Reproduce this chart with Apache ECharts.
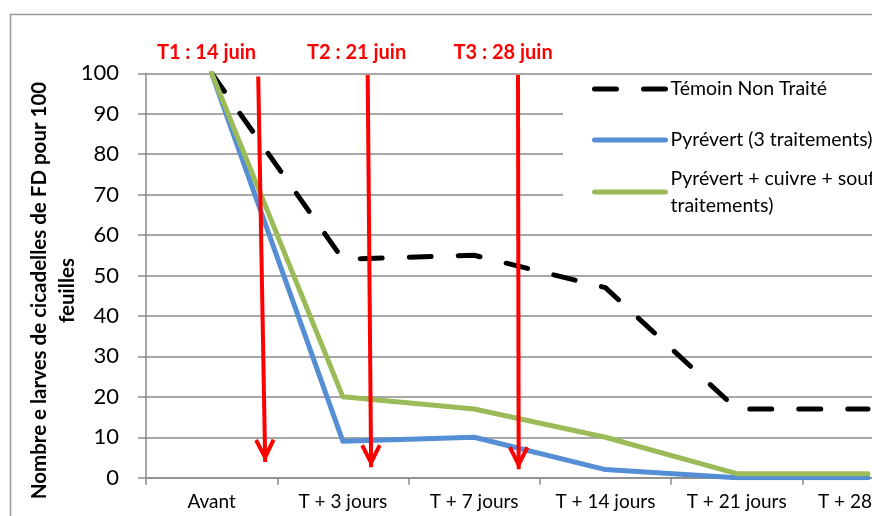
<!DOCTYPE html>
<html><head><meta charset="utf-8">
<script src="https://cdn.jsdelivr.net/npm/echarts@6/dist/echarts.min.js"></script>
<style>html,body{margin:0;padding:0;background:#fff;overflow:hidden;width:872px;height:516px}#c{width:934px;height:516px}</style>
</head><body><div id="c"></div>
<script>
// ---- data ----
const categories = ['Avant', 'T + 3 jours', 'T + 7 jours', 'T + 14 jours', 'T + 21 jours', 'T + 28 jours'];
const seriesNames = ['Témoin Non Traité', 'Pyrévert (3 traitements)', 'Pyrévert + cuivre + soufre (3\ntraitements)'];
const temoin = [100, 54, 55, 47, 17, 17];
const pyrevert = [100, 9, 10, 2, 0, 0];
const pyrevertCuivre = [100, 20, 17, 10, 1, 1];
const yMin = 0, yMax = 100, yInterval = 10;
const yName = 'Nombre e larves de cicadelles de FD pour 100\nfeuilles';
const treatmentLabels = ['T1 : 14 juin', 'T2 : 21 juin', 'T3 : 28 juin'];
// annotation anchors: x in category-index units, y in axis values
const arrowStart = [[0.355, 99.2], [1.189, 99.6], [2.334, 99.6]];
const arrowEnd = [[0.408, 3.9], [1.215, 2.6], [2.339, 2.1]];
const labelPos = [[-0.039, 100], [1.104, 100], [2.22, 100]];

// ---- styles ----
const FONT = 'Lato';
const GRAY = '#8a8a8a';
const chevron = 'path://M23,0 L23.1,0 L23,0.1 Z M0,23 L0.1,23 L0,23.1 Z M46,23 L45.9,23 L46,23.1 Z ' +
                'M23,23 L33.5,44 L30,46 L23,32 L16,46 L12.5,44 Z';

const chart = echarts.init(document.getElementById('c'), null, {renderer: 'canvas'});
chart.setOption({
  animation: false,
  backgroundColor: '#fff',
  graphic: [{
    type: 'rect', z: -1, silent: true,
    shape: {x: 10.5, y: 14.5, width: 1200, height: 1200},
    style: {fill: 'none', stroke: '#9a9a9a', lineWidth: 1.5}
  }],
  grid: {left: 146, top: 73.3, width: 787.6, height: 404.4, outerBoundsMode: 'none'},
  xAxis: [{
    type: 'category', data: categories, boundaryGap: true,
    axisLine: {onZero: false, lineStyle: {color: GRAY, width: 1.5}},
    axisTick: {show: true, length: 7, interval: 0, lineStyle: {color: GRAY, width: 1.5}},
    axisLabel: {interval: 0, margin: 15, color: '#000', fontFamily: FONT, fontSize: 19},
    splitLine: {show: false}
  }, {
    type: 'value', min: -0.5, max: 5.5, show: false
  }],
  yAxis: [{
    type: 'value', min: yMin, max: yMax, interval: yInterval,
    name: yName, nameLocation: 'middle', nameRotate: 90, nameGap: 64.4, nameMoveOverlap: false,
    nameTextStyle: {fontFamily: FONT, fontWeight: 'bold', fontSize: 20.5, color: '#000', lineHeight: 28, padding: [0, 30, 0, 0]},
    axisLine: {show: true, onZero: false, lineStyle: {color: GRAY, width: 1.5}},
    axisTick: {show: true, length: 8, lineStyle: {color: GRAY, width: 1.5}},
    axisLabel: {margin: 27, color: '#000', fontFamily: FONT, fontSize: 22},
    splitLine: {show: true, lineStyle: {color: GRAY, width: 1.5}}
  }],
  legend: [{
    data: [seriesNames[0], seriesNames[1]], orient: 'vertical', left: 563, top: 75,
    itemWidth: 71, itemHeight: 1, itemGap: 24, padding: [0.5, 300, 2, 29],
    backgroundColor: '#fff', selectedMode: false,
    itemStyle: {opacity: 0},
    lineStyle: {width: 5, cap: 'round'},
    textStyle: {fontFamily: FONT, fontSize: 19.5, color: '#000', lineHeight: 27}
  }, {
    data: [seriesNames[2]], orient: 'vertical', left: 563, top: 151.5,
    itemWidth: 71, itemHeight: 1, itemGap: 24, padding: [0, 300, 0, 29],
    backgroundColor: '#fff', selectedMode: false,
    itemStyle: {opacity: 0},
    lineStyle: {width: 5, cap: 'round'},
    textStyle: {fontFamily: FONT, fontSize: 19.5, color: '#000', lineHeight: 27, padding: [27, 0, 0, 0]}
  }],
  series: [{
    name: seriesNames[0], type: 'line', data: temoin, symbol: 'none', z: 2,
    lineStyle: {color: '#000', width: 5, type: [22, 27], cap: 'round', join: 'round'},
    itemStyle: {color: '#000'}
  }, {
    name: seriesNames[1], type: 'line', data: pyrevert, symbol: 'none', z: 3,
    lineStyle: {color: '#558ED5', width: 5, cap: 'round', join: 'round'},
    itemStyle: {color: '#558ED5'}
  }, {
    name: seriesNames[2], type: 'line', data: pyrevertCuivre, symbol: 'none', z: 4,
    lineStyle: {color: '#9BBB59', width: 5, cap: 'round', join: 'round'},
    itemStyle: {color: '#9BBB59'}
  }, {
    name: 'traitements', type: 'line', xAxisIndex: 1, yAxisIndex: 0, data: [], clip: false, silent: true, z: 5,
    markLine: {
      silent: true, animation: false,
      symbol: ['none', chevron], symbolSize: 46,
      lineStyle: {color: '#ff0000', width: 4, type: 'solid'},
      emphasis: {disabled: true},
      label: {show: false},
      data: arrowStart.map((s, i) => [{coord: s}, {coord: arrowEnd[i]}])
    },
    markPoint: {
      silent: true, symbol: 'circle', symbolSize: 1,
      itemStyle: {color: 'rgba(0,0,0,0)'},
      label: {show: true, position: 'inside', offset: [0, -21], formatter: p => p.name, color: '#ff0000',
              fontFamily: FONT, fontWeight: 'bold', fontSize: 20},
      data: labelPos.map((p, i) => ({name: treatmentLabels[i], coord: p}))
    }
  }]
});
</script></body></html>
